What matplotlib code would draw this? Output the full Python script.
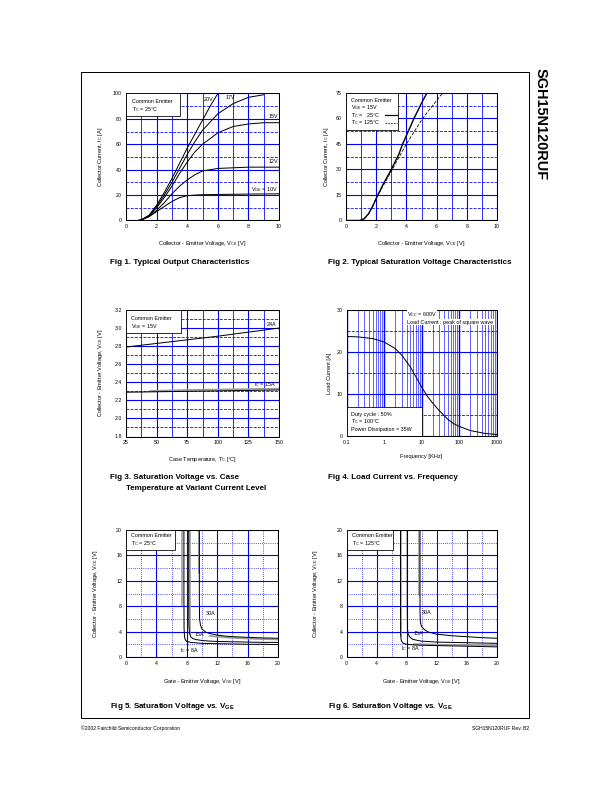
import matplotlib
matplotlib.use("Agg")
import matplotlib.pyplot as plt
from matplotlib.patches import Rectangle
from matplotlib.ticker import MultipleLocator, FixedLocator, NullFormatter
import numpy as np

plt.rcParams['font.family'] = ['Liberation Sans', 'DejaVu Sans']
plt.rcParams['mathtext.fontset'] = 'custom'
plt.rcParams['mathtext.rm'] = 'Liberation Sans'
plt.rcParams['mathtext.it'] = 'Liberation Sans:italic'
plt.rcParams['mathtext.bf'] = 'Liberation Sans:bold'

# ---------------- DATA ----------------
# Fig 1: Ic vs Vce for several Vge (Tc = 25C)
f1_vce_20 = [0, 0.8, 1.0, 1.5, 2.0, 2.5, 3.0, 3.5, 4.0, 4.5, 5.0, 5.5, 6.0]
f1_ic_20 = [0, 0, 0.5, 4, 12, 22, 33, 45, 57, 68, 79, 90, 100]
f1_vce_17 = [0, 0.8, 1.0, 1.5, 2.0, 2.5, 3.0, 3.5, 4.0, 4.5, 5.0, 6.0, 7.0, 8.0, 9.0]
f1_ic_17 = [0, 0, 0.5, 4, 11, 20, 30, 41, 52, 62, 71, 84, 92, 97, 99]
f1_vce_15 = [0, 0.8, 1.0, 1.5, 2.0, 2.5, 3.0, 3.5, 4.0, 4.5, 5.0, 6.0, 7.0, 8.0, 9.0, 10.0]
f1_ic_15 = [0, 0, 0.5, 3.5, 10, 18, 27, 37, 46, 54, 60, 69, 74, 76, 77, 77]
f1_vce_12 = [0, 0.8, 1.0, 1.5, 2.0, 2.5, 3.0, 3.5, 4.0, 4.5, 5.0, 6.0, 7.0, 8.0, 10.0]
f1_ic_12 = [0, 0, 0.5, 3, 8, 14, 21, 27, 32, 36, 39, 41, 41.5, 42, 42]
f1_vce_10 = [0, 0.8, 1.0, 1.5, 2.0, 2.5, 3.0, 3.5, 4.0, 4.5, 5.0, 6.0, 8.0, 10.0]
f1_ic_10 = [0, 0, 0.5, 3, 7, 11, 15, 18, 19.5, 20, 20.3, 20.5, 20.8, 21]

# Fig 2: Ic vs Vce at Vge = 15V, Tc = 25C and 125C
f2_vce_25 = [0, 0.9, 1.2, 1.5, 1.8, 2.0, 2.5, 3.0, 3.5, 3.75, 4.0, 4.5, 5.0, 5.36]
f2_ic_25 = [0, 0, 1, 4, 9, 13, 22, 30, 39, 45, 50, 60, 69, 75]
f2_vce_125 = [0, 1.0, 1.2, 1.5, 1.8, 2.0, 2.5, 3.0, 3.5, 4.0, 4.5, 5.0, 5.5, 6.0, 6.4]
f2_ic_125 = [0, 0, 1, 4, 9, 13, 21, 29, 37, 45, 52, 59, 65, 70.5, 75]

# Fig 3: Vce vs case temperature
f3_tc = [25, 50, 75, 100, 125, 150]
f3_vce_24a = [2.79, 2.83, 2.87, 2.91, 2.955, 3.0]
f3_vce_15a = [2.29, 2.295, 2.30, 2.305, 2.31, 2.315]
f3_tc_gray = [45, 75, 100, 125, 150]
f3_vce_15a_gray = [2.305, 2.315, 2.32, 2.325, 2.33]

# Fig 4: Load current vs frequency
f4_freq = [0.1, 0.2, 0.5, 1, 2, 3, 5, 7, 10, 15, 20, 30, 50, 70, 100, 200, 500, 1000]
f4_current = [23.7, 23.6, 23.2, 22.4, 20.8, 19.2, 16.5, 14.2, 11.7, 9.2, 7.8, 6.0, 4.0,
              3.0, 2.3, 1.3, 0.6, 0.35]

# Fig 5: Vce vs Vge, Tc = 25C
f5_vge_8 = [7.62, 7.62, 7.64, 7.7, 7.8, 8.0, 8.5, 9, 10, 12, 14, 16, 18, 20]
f5_vce_8 = [20, 10, 4.5, 3.2, 2.7, 2.45, 2.3, 2.25, 2.15, 2.1, 2.05, 2.0, 2.0, 1.95]
f5_vge_15 = [8.25, 8.25, 8.27, 8.35, 8.5, 8.8, 9.2, 10, 11, 12, 14, 16, 18, 20]
f5_vce_15 = [20, 10, 5, 3.8, 3.2, 2.9, 2.75, 2.6, 2.5, 2.45, 2.4, 2.35, 2.3, 2.3]
f5_vge_30 = [9.65, 9.65, 9.68, 9.8, 10, 10.5, 11, 12, 13, 14, 16, 18, 20]
f5_vce_30 = [20, 10, 6, 5, 4.4, 3.9, 3.7, 3.45, 3.3, 3.2, 3.1, 3.0, 2.95]
f5_gray_vge = [[7.38, 7.38], [8.45, 8.45], [9.58, 9.58], [11, 14, 17, 20]]
f5_gray_vce = [[20, 8.2], [20, 3.7], [20, 13.3], [3.3, 3.0, 2.85, 2.75]]

# Fig 6: Vce vs Vge, Tc = 125C
f6_vge_8 = [7.2, 7.2, 7.22, 7.3, 7.5, 8, 9, 10, 12, 14, 16, 18, 20]
f6_vce_8 = [20, 8, 3.5, 2.6, 2.2, 2.0, 1.9, 1.85, 1.8, 1.75, 1.7, 1.65, 1.6]
f6_vge_15 = [8.1, 8.1, 8.13, 8.2, 8.4, 8.8, 9.5, 10, 12, 14, 16, 18, 20]
f6_vce_15 = [20, 8, 4.5, 3.7, 3.2, 2.8, 2.6, 2.5, 2.35, 2.3, 2.25, 2.2, 2.15]
f6_vge_30 = [9.8, 9.8, 9.85, 10, 10.5, 11, 12, 14, 16, 18, 20]
f6_vce_30 = [20, 7, 5.5, 4.8, 4.2, 3.9, 3.6, 3.35, 3.2, 3.05, 2.95]
f6_gray_vge = [[7.3, 7.3], [9.65, 9.65], [9, 12, 16, 20]]
f6_gray_vce = [[20, 3.3], [20, 9.8], [2.05, 1.95, 1.9, 1.85]]

# tick labels
f1_xticks = [0, 2, 4, 6, 8, 10]
f1_yticks = [0, 20, 40, 60, 80, 100]
f2_yticks = [0, 15, 30, 45, 60, 75]
f3_xticks = [25, 50, 75, 100, 125, 150]
f3_yticks = [1.8, 2.0, 2.2, 2.4, 2.6, 2.8, 3.0, 3.2]
f4_xticks = [0.1, 1, 10, 100, 1000]
f4_xticklabels = ['0.1', '1', '10', '100', '1000']
f4_yticks = [0, 10, 20, 30]
f56_ticks = [0, 4, 8, 12, 16, 20]

# ---------------- FIGURE ----------------
W, H = 612, 792
fig = plt.figure(figsize=(W / 72, H / 72), dpi=72)

BLUE = '#0000ff'
TFS = 5.2   # tick font size
LFS = 5.6   # label font size
BFS = 5.4   # box text font size


def make_ax(l, r, t, b):
    return fig.add_axes([l / W, 1 - b / H, (r - l) / W, (b - t) / H])


def style(ax, xlab, ylab, ylx, xly, minor_x_ls='-', minor_y_ls='--'):
    ax.tick_params(which='both', length=0, labelsize=TFS, pad=4)
    for s in ax.spines.values():
        s.set_linewidth(1.0)
        s.set_zorder(5)
    ax.grid(which='major', color=BLUE, lw=1.1, ls='-')
    ax.grid(which='minor', axis='x', color=BLUE, lw=0.8, ls=minor_x_ls)
    ax.grid(which='minor', axis='y', color=BLUE, lw=0.8, ls=minor_y_ls)
    ax.set_axisbelow(True)
    ax.set_xlabel(xlab, fontsize=LFS)
    ax.set_ylabel(ylab, fontsize=LFS)
    ax.yaxis.set_label_coords(ylx, 0.5)
    ax.xaxis.set_label_coords(0.5, xly)


def box(ax, x0, y0, w, h):
    ax.add_patch(Rectangle((x0, y0), w, h, transform=ax.transAxes, facecolor='white',
                           edgecolor='black', lw=0.8, zorder=6))


# ---- Fig 1 ----
ax1 = make_ax(126, 279, 93.5, 220.5)
for x, y in [(f1_vce_20, f1_ic_20), (f1_vce_17, f1_ic_17), (f1_vce_15, f1_ic_15),
             (f1_vce_12, f1_ic_12), (f1_vce_10, f1_ic_10)]:
    ax1.plot(x, y, color='black', lw=1.0, zorder=3)
ax1.set_xlim(0, 10)
ax1.set_ylim(0, 100)
ax1.set_xticks(f1_xticks)
ax1.set_yticks(f1_yticks)
ax1.xaxis.set_minor_locator(MultipleLocator(1))
ax1.yaxis.set_minor_locator(MultipleLocator(10))
style(ax1, r'Collector - Emitter Voltage, V$_{\mathregular{CE}}$ [V]',
      r'Collector Current, I$_{\mathregular{C}}$ [A]', -0.137, -0.146)
box(ax1, 0, 0.825, 0.355, 0.175)
ax1.text(0.04, 0.94, 'Common Emitter', transform=ax1.transAxes, fontsize=BFS, va='center', zorder=7)
ax1.text(0.04, 0.875, r'T$_{\mathregular{C}}$ = 25°C', transform=ax1.transAxes, fontsize=BFS,
         va='center', zorder=7)
ax1.text(5.1, 95.5, '20V', fontsize=BFS, va='center', zorder=7)
ax1.text(6.5, 96.5, '17V', fontsize=BFS, va='center', zorder=7)
ax1.text(9.95, 81.5, '15V', fontsize=BFS, va='center', ha='right', zorder=7)
ax1.text(9.95, 46.5, '12V', fontsize=BFS, va='center', ha='right', zorder=7)
ax1.text(9.95, 24, r'V$_{\mathregular{GE}}$ = 10V', fontsize=BFS, va='center', ha='right', zorder=7)

# ---- Fig 2 ----
ax2 = make_ax(346, 497, 93, 220.5)
ax2.plot(f2_vce_25, f2_ic_25, color='black', lw=1.4, zorder=3)
ax2.plot(f2_vce_125, f2_ic_125, color='black', lw=0.8, ls=(0, (4, 2)), zorder=3)
ax2.set_xlim(0, 10)
ax2.set_ylim(0, 75)
ax2.set_xticks(f1_xticks)
ax2.set_yticks(f2_yticks)
ax2.xaxis.set_minor_locator(MultipleLocator(1))
ax2.yaxis.set_minor_locator(MultipleLocator(7.5))
style(ax2, r'Collector - Emitter Voltage, V$_{\mathregular{CE}}$ [V]',
      r'Collector Current, I$_{\mathregular{C}}$ [A]', -0.10, -0.146)
box(ax2, 0, 0.708, 0.344, 0.292)
ax2.text(0.035, 0.94, 'Common Emitter', transform=ax2.transAxes, fontsize=BFS, va='center', zorder=7)
ax2.text(0.035, 0.885, r'V$_{\mathregular{GE}}$ = 15V', transform=ax2.transAxes, fontsize=BFS,
         va='center', zorder=7)
ax2.text(0.035, 0.825, r'T$_{\mathregular{C}}$ =   25°C', transform=ax2.transAxes, fontsize=BFS,
         va='center', zorder=7)
ax2.text(0.035, 0.765, r'T$_{\mathregular{C}}$ = 125°C', transform=ax2.transAxes, fontsize=BFS,
         va='center', zorder=7)
ax2.plot([0.26, 0.335], [0.825, 0.825], transform=ax2.transAxes, color='black', lw=1.2,
         zorder=8, clip_on=False)
ax2.plot([0.26, 0.335], [0.765, 0.765], transform=ax2.transAxes, color='black', lw=0.8,
         ls=(0, (2, 1.5)), zorder=8, clip_on=False)

# ---- Fig 3 ----
ax3 = make_ax(126, 279, 310, 436.5)
ax3.plot(f3_tc, f3_vce_24a, color='black', lw=1.0, zorder=3)
ax3.plot(f3_tc_gray, f3_vce_15a_gray, color='#999999', lw=1.6, zorder=3)
ax3.plot(f3_tc, f3_vce_15a, color='black', lw=1.0, zorder=3)
ax3.set_xlim(25, 150)
ax3.set_ylim(1.8, 3.2)
ax3.set_xticks(f3_xticks)
ax3.set_yticks(f3_yticks)
ax3.set_yticklabels(['%.1f' % v for v in f3_yticks])
ax3.xaxis.set_minor_locator(MultipleLocator(12.5))
ax3.yaxis.set_minor_locator(MultipleLocator(0.1))
style(ax3, r'Case Temperature, T$_{\mathregular{C}}$ [°C]',
      r'Collector - Emitter Voltage, V$_{\mathregular{CE}}$ [V]', -0.137, -0.146)
box(ax3, 0, 0.816, 0.36, 0.184)
ax3.text(0.035, 0.93, 'Common Emitter', transform=ax3.transAxes, fontsize=BFS, va='center', zorder=7)
ax3.text(0.035, 0.868, r'V$_{\mathregular{GE}}$ = 15V', transform=ax3.transAxes, fontsize=BFS,
         va='center', zorder=7)
ax3.text(148, 3.04, '24A', fontsize=BFS, ha='right', va='center', zorder=7)
ax3.text(148, 2.37, r'I$_{\mathregular{C}}$ = 15A', fontsize=BFS, ha='right', va='center', zorder=7)

# ---- Fig 4 ----
ax4 = make_ax(346.5, 496.5, 310, 436)
ax4.plot(f4_freq, f4_current, color='black', lw=1.0, zorder=3)
ax4.set_xscale('log')
ax4.set_xlim(0.1, 1000)
ax4.set_ylim(0, 30)
ax4.set_xticks(f4_xticks)
ax4.set_xticklabels(f4_xticklabels)
ax4.xaxis.set_minor_locator(FixedLocator([m * 10.0 ** e for e in range(-1, 3) for m in range(2, 10)]))
ax4.xaxis.set_minor_formatter(NullFormatter())
ax4.set_yticks(f4_yticks)
ax4.yaxis.set_minor_locator(MultipleLocator(5))
style(ax4, 'Frequency [KHz]', 'Load Current [A]', -0.10, -0.146)
ax4.grid(which='major', axis='x', color=BLUE, lw=1.4)
ax4.grid(which='minor', axis='x', color=BLUE, lw=0.6, ls='-')
ax4.text(0.405, 0.96, r'V$_{\mathregular{CC}}$ = 600V', transform=ax4.transAxes, fontsize=BFS,
         va='center', zorder=7, bbox=dict(facecolor='white', edgecolor='none', pad=0.3))
ax4.text(0.405, 0.903, 'Load Current : peak of square wave', transform=ax4.transAxes,
         fontsize=BFS, va='center', zorder=7,
         bbox=dict(facecolor='white', edgecolor='none', pad=0.3))
box(ax4, 0, 0, 0.5, 0.23)
ax4.text(0.033, 0.172, 'Duty cycle : 50%', transform=ax4.transAxes, fontsize=BFS, va='center', zorder=7)
ax4.text(0.033, 0.111, r'T$_{\mathregular{C}}$ = 100°C', transform=ax4.transAxes, fontsize=BFS,
         va='center', zorder=7)
ax4.text(0.033, 0.055, 'Power Dissipation = 35W', transform=ax4.transAxes, fontsize=BFS,
         va='center', zorder=7)

# ---- Fig 5 ----
ax5 = make_ax(126, 278, 530, 657)
for gx, gy in zip(f5_gray_vge, f5_gray_vce):
    ax5.plot(gx, gy, color='#999999', lw=1.6, zorder=3)
for x, y in [(f5_vge_8, f5_vce_8), (f5_vge_15, f5_vce_15), (f5_vge_30, f5_vce_30)]:
    ax5.plot(x, y, color='black', lw=1.0, zorder=4)
ax5.set_xlim(0, 20)
ax5.set_ylim(0, 20)
ax5.set_xticks(f56_ticks)
ax5.set_yticks(f56_ticks)
ax5.xaxis.set_minor_locator(MultipleLocator(2))
ax5.yaxis.set_minor_locator(MultipleLocator(2))
style(ax5, r'Gate - Emitter Voltage, V$_{\mathregular{GE}}$ [V]',
      r'Collector - Emitter Voltage, V$_{\mathregular{CE}}$ [V]', -0.17, -0.157,
      minor_x_ls=':', minor_y_ls=':')
box(ax5, 0, 0.84, 0.32, 0.16)
ax5.text(0.035, 0.953, 'Common Emitter', transform=ax5.transAxes, fontsize=BFS, va='center', zorder=7)
ax5.text(0.035, 0.895, r'T$_{\mathregular{C}}$ = 25°C', transform=ax5.transAxes, fontsize=BFS,
         va='center', zorder=7)
ax5.text(10.5, 6.8, '30A', fontsize=BFS, va='center', zorder=7)
ax5.text(9.0, 3.5, '15A', fontsize=BFS, va='center', zorder=7)
ax5.text(7.1, 1.05, r'I$_{\mathregular{C}}$ = 8A', fontsize=BFS, va='center', zorder=7)

# ---- Fig 6 ----
ax6 = make_ax(346.5, 496.5, 530, 657)
for gx, gy in zip(f6_gray_vge, f6_gray_vce):
    ax6.plot(gx, gy, color='#999999', lw=1.6, zorder=3)
for x, y in [(f6_vge_8, f6_vce_8), (f6_vge_15, f6_vce_15), (f6_vge_30, f6_vce_30)]:
    ax6.plot(x, y, color='black', lw=1.0, zorder=4)
ax6.set_xlim(0, 20)
ax6.set_ylim(0, 20)
ax6.set_xticks(f56_ticks)
ax6.set_yticks(f56_ticks)
ax6.xaxis.set_minor_locator(MultipleLocator(2))
ax6.yaxis.set_minor_locator(MultipleLocator(2))
style(ax6, r'Gate - Emitter Voltage, V$_{\mathregular{GE}}$ [V]',
      r'Collector - Emitter Voltage, V$_{\mathregular{CE}}$ [V]', -0.177, -0.157,
      minor_x_ls=':', minor_y_ls=':')
box(ax6, 0, 0.84, 0.31, 0.16)
ax6.text(0.035, 0.953, 'Common Emitter', transform=ax6.transAxes, fontsize=BFS, va='center', zorder=7)
ax6.text(0.035, 0.895, r'T$_{\mathregular{C}}$ = 125°C', transform=ax6.transAxes, fontsize=BFS,
         va='center', zorder=7)
ax6.text(10.0, 7.0, '30A', fontsize=BFS, va='center', zorder=7)
ax6.text(8.9, 3.65, '15A', fontsize=BFS, va='center', zorder=7)
ax6.text(7.3, 1.35, r'I$_{\mathregular{C}}$ = 8A', fontsize=BFS, va='center', zorder=7)

# ---------------- PAGE ELEMENTS ----------------
fig.patches.append(Rectangle((81 / W, 1 - 718 / H), (529 - 81) / W, (718 - 72) / H,
                             transform=fig.transFigure, fill=False, edgecolor='black', lw=1.0))

CFS = 8.0


def fig_text(x, y, s, **kw):
    fig.text(x / W, 1 - y / H, s, fontsize=CFS, fontweight='bold', va='center', ha='left', **kw)


fig_text(110, 262, 'Fig 1. Typical Output Characteristics')
fig_text(328, 262, 'Fig 2. Typical Saturation Voltage Characteristics')
fig_text(110, 478, 'Fig 3. Saturation Voltage vs. Case')
fig_text(126, 488.5, 'Temperature at Variant Current Level')
fig_text(328, 478, 'Fig 4. Load Current vs. Frequency')
fig_text(110, 707, r'Fig 5. Saturation Voltage vs. V$_{\mathbf{GE}}$')
fig_text(328, 707, r'Fig 6. Saturation Voltage vs. V$_{\mathbf{GE}}$')

fig.text(541 / W, 1 - 124 / H, 'SGH15N120RUF', fontsize=14.5, fontweight='bold',
         rotation=270, ha='center', va='center')
fig.text(81 / W, 1 - 728 / H, '©2002 Fairchild Semiconductor Corporation', fontsize=5.0,
         ha='left', va='center')
fig.text(529 / W, 1 - 728 / H, 'SGH15N120RUF Rev. B2', fontsize=5.0, ha='right', va='center')

fig.savefig('out.png', dpi=72)
